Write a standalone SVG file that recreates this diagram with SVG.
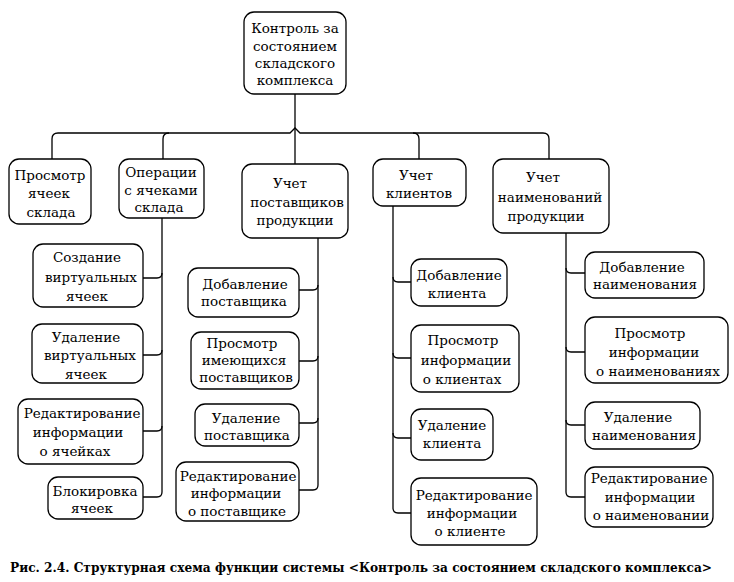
<svg xmlns="http://www.w3.org/2000/svg" width="734" height="582" viewBox="0 0 734 582" font-family="'DejaVu Serif', 'Noto Serif', serif">
<style>
rect{fill:#fff;stroke:#000;stroke-width:1.3}
text{font-size:13.5px;text-anchor:middle;fill:#000}
.c path{fill:none;stroke:#000;stroke-width:1.3}
.cap{font-weight:bold;font-size:12.5px;text-anchor:start}
</style>
<rect width="734" height="582" style="fill:#fff;stroke:none"/>
<g class="c" id="connectors">
<path d="M295,94 V164"/>
<path d="M52,159 V139 Q52,133 58,133 H290 L295,128 L300,133 H543 Q549,133 549,139 V159"/>
<path d="M163,159 V139 Q163,133 169,133"/>
<path d="M413,133 Q419,133 419,139 V159"/>
<path d="M162,218 V492"/>
<path d="M143,278 H157 Q162,278 162,273"/>
<path d="M143,355 H157 Q162,355 162,350"/>
<path d="M143,431 H157 Q162,431 162,426"/>
<path d="M143,497 H157 Q162,497 162,492"/>
<path d="M318,238 V485"/>
<path d="M299,290 H313 Q318,290 318,285"/>
<path d="M299,361 H313 Q318,361 318,356"/>
<path d="M299,423 H313 Q318,423 318,418"/>
<path d="M299,490 H313 Q318,490 318,485"/>
<path d="M393,206 V508"/>
<path d="M393,277 Q393,282 398,282 H411"/>
<path d="M393,353 Q393,358 398,358 H411"/>
<path d="M393,433 Q393,438 398,438 H411"/>
<path d="M393,508 Q393,513 398,513 H411"/>
<path d="M566,233 V492"/>
<path d="M566,268 Q566,273 571,273 H585"/>
<path d="M566,347 Q566,352 571,352 H585"/>
<path d="M566,420 Q566,425 571,425 H585"/>
<path d="M566,492 Q566,497 571,497 H585"/>
</g>
<g id="root"><rect x="244" y="12" width="102" height="82" rx="10"/>
<text x="295" y="33">Контроль за</text><text x="295" y="51">состоянием</text><text x="295" y="68">складского</text><text x="295" y="85">комплекса</text></g>
<g id="n-prosmotr"><rect x="9" y="159" width="82" height="65" rx="10"/>
<text x="50" y="180">Просмотр</text><text x="49" y="198">ячеек</text><text x="51" y="217">склада</text></g>
<g id="n-operacii"><rect x="119" y="159" width="85" height="59" rx="10"/>
<text x="161" y="177">Операции</text><text x="161" y="195">с ячеками</text><text x="159" y="212">склада</text></g>
<g id="n-postavshiki"><rect x="242" y="164" width="106" height="74" rx="10"/>
<text x="290" y="188">Учет</text><text x="297" y="207">поставщиков</text><text x="295" y="225">продукции</text></g>
<g id="n-klienty"><rect x="373" y="159" width="93" height="47" rx="10"/>
<text x="416" y="180">Учет</text><text x="419" y="198">клиентов</text></g>
<g id="n-naimen"><rect x="493" y="159" width="116" height="74" rx="10"/>
<text x="543" y="182">Учет</text><text x="550" y="202">наименований</text><text x="546" y="221">продукции</text></g>
<g id="n-sozd"><rect x="33" y="244" width="110" height="63" rx="10"/>
<text x="87" y="262">Создание</text><text x="91" y="282">виртуальных</text><text x="87" y="301">ячеек</text></g>
<g id="n-udal-virt"><rect x="32" y="324" width="111" height="59" rx="10"/>
<text x="86" y="342">Удаление</text><text x="90" y="360">виртуальных</text><text x="86" y="379">ячеек</text></g>
<g id="n-red-yach"><rect x="18" y="399" width="125" height="65" rx="10"/>
<text x="82" y="418">Редактирование</text><text x="78" y="437">информации</text><text x="75" y="456">о ячейках</text></g>
<g id="n-blok"><rect x="48" y="477" width="95" height="42" rx="10"/>
<text x="95" y="496">Блокировка</text><text x="92" y="513">ячеек</text></g>
<g id="n-dob-post"><rect x="188" y="268" width="111" height="49" rx="10"/>
<text x="245" y="289">Добавление</text><text x="244" y="306">поставщика</text></g>
<g id="n-pros-post"><rect x="191" y="332" width="108" height="57" rx="10"/>
<text x="242" y="348">Просмотр</text><text x="244" y="365">имеющихся</text><text x="246" y="382">поставщиков</text></g>
<g id="n-udal-post"><rect x="195" y="404" width="104" height="42" rx="10"/>
<text x="246" y="423">Удаление</text><text x="247" y="440">поставщика</text></g>
<g id="n-red-post"><rect x="176" y="462" width="123" height="59" rx="10"/>
<text x="238" y="481">Редактирование</text><text x="236" y="498">информации</text><text x="237" y="516">о поставщике</text></g>
<g id="n-dob-kl"><rect x="411" y="259" width="96" height="47" rx="10"/>
<text x="459" y="280">Добавление</text><text x="457" y="298">клиента</text></g>
<g id="n-pros-kl"><rect x="411" y="325" width="108" height="67" rx="10"/>
<text x="463" y="345">Просмотр</text><text x="466" y="365">информации</text><text x="462" y="384">о клиентах</text></g>
<g id="n-udal-kl"><rect x="411" y="409" width="82" height="51" rx="10"/>
<text x="452" y="430">Удаление</text><text x="452" y="448">клиента</text></g>
<g id="n-red-kl"><rect x="411" y="478" width="126" height="67" rx="10"/>
<text x="474" y="500">Редактирование</text><text x="472" y="518">информации</text><text x="470" y="536">о клиенте</text></g>
<g id="n-dob-naim"><rect x="585" y="252" width="119" height="46" rx="10"/>
<text x="642" y="272">Добавление</text><text x="645" y="289">наименования</text></g>
<g id="n-pros-naim"><rect x="585" y="317" width="143" height="66" rx="10"/>
<text x="650" y="338">Просмотр</text><text x="654" y="357">информации</text><text x="658" y="376" font-size="13">о наименованиях</text></g>
<g id="n-udal-naim"><rect x="585" y="402" width="115" height="47" rx="10"/>
<text x="638" y="422">Удаление</text><text x="644" y="440">наименования</text></g>
<g id="n-red-naim"><rect x="585" y="467" width="128" height="60" rx="10"/>
<text x="649" y="483">Редактирование</text><text x="650" y="502">информации</text><text x="651" y="520">о наименовании</text></g>
<text class="cap" x="10" y="572" textLength="702" lengthAdjust="spacingAndGlyphs">Рис. 2.4. Структурная схема функции системы &lt;Контроль за состоянием складского комплекса&gt;</text>
</svg>
